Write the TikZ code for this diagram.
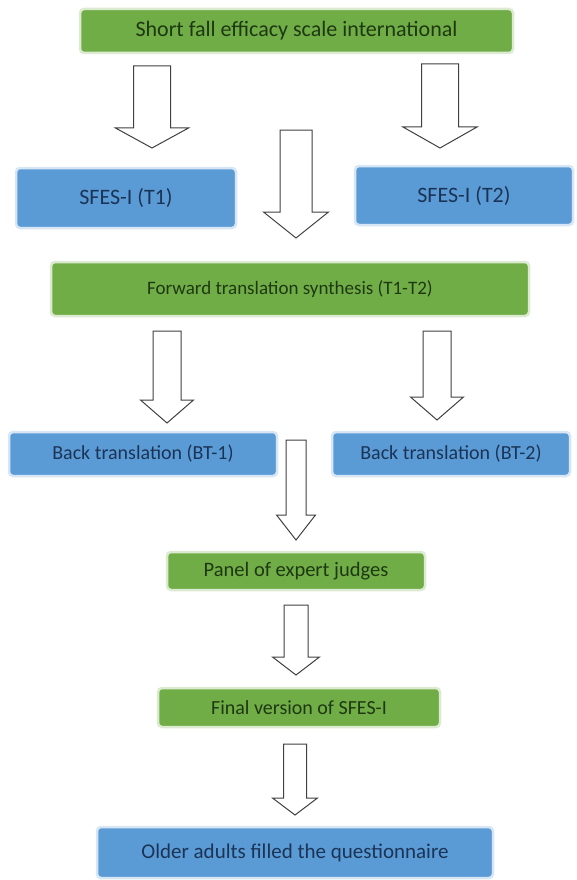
\documentclass[tikz,border=0pt]{standalone}
\usepackage{fontspec}
\setmainfont{Carlito}
\usetikzlibrary{calc}

\definecolor{boxgreen}{HTML}{70AD47}
\definecolor{boxblue}{HTML}{5B9BD5}
\definecolor{greentext}{HTML}{1E3812}
\definecolor{bluetext}{HTML}{1B3456}

% hollow block arrow: tail, tip, half shaft, half head, head length
\newcommand{\blockarrow}[5]{%
  \draw[hollow] let \p1=(#1), \p2=(#2) in
    (\x1-#3,\y1) -- (\x1-#3,\y2+#5) -- (\x1-#4,\y2+#5) -- (\x1,\y2)
    -- (\x1+#4,\y2+#5) -- (\x1+#3,\y2+#5) -- (\x1+#3,\y1) -- cycle;}

\begin{document}
\begin{tikzpicture}[x=1pt,y=-1pt,
    stepgreen/.style={rectangle, rounded corners=4pt, fill=boxgreen, draw=boxgreen!25,
      line width=2.5pt, text=greentext, inner sep=0pt},
    stepblue/.style={rectangle, rounded corners=4pt, fill=boxblue, draw=boxblue!25,
      line width=2.5pt, text=bluetext, inner sep=0pt},
    hollow/.style={draw=black!75, line width=1pt, fill=white, line join=miter}]
    \useasboundingbox (0,0) rectangle (576,880);

    \node[stepgreen, minimum width=433pt, minimum height=44pt, font=\fontsize{22}{26}\selectfont] (sfes) at (296.5,31) {Short fall efficacy scale international};
    \node[stepblue, minimum width=220pt, minimum height=60pt, font=\fontsize{22}{26}\selectfont] (t1) at (126,198) {SFES-I (T1)};
    \node[stepblue, minimum width=218pt, minimum height=59pt, font=\fontsize{22}{26}\selectfont] (t2) at (464,195.5) {SFES-I (T2)};
    \node[stepgreen, minimum width=478pt, minimum height=54pt, font=\fontsize{19}{23}\selectfont] (fwd) at (290,289) {Forward translation synthesis (T1-T2)};
    \node[stepblue, minimum width=268pt, minimum height=44pt, font=\fontsize{20}{24}\selectfont] (bt1) at (143,454) {Back translation (BT-1)};
    \node[stepblue, minimum width=238pt, minimum height=44pt, font=\fontsize{20}{24}\selectfont] (bt2) at (451,454) {Back translation (BT-2)};
    \node[stepgreen, minimum width=258pt, minimum height=38pt, font=\fontsize{20.5}{24}\selectfont] (panel) at (296,571) {Panel of expert judges};
    \node[stepgreen, minimum width=282pt, minimum height=39pt, font=\fontsize{20}{24}\selectfont] (final) at (299,707.5) {Final version of SFES-I};
    \node[stepblue, minimum width=396pt, minimum height=51pt, font=\fontsize{21}{25}\selectfont] (older) at (295,852.5) {Older adults filled the questionnaire};

    % arrow ends
    \coordinate (a1s) at (152,66);   \coordinate (a1e) at (152,148);
    \coordinate (a2s) at (440,64);   \coordinate (a2e) at (440,148);
    \coordinate (a3s) at (296,130);  \coordinate (a3e) at (296,238);
    \coordinate (a4s) at (167,331);  \coordinate (a4e) at (167,423);
    \coordinate (a5s) at (437,331);  \coordinate (a5e) at (437,420);
    \coordinate (a6s) at (296,440);  \coordinate (a6e) at (296,540);
    \coordinate (a7s) at (296,605);  \coordinate (a7e) at (296,675);
    \coordinate (a8s) at (295,744);  \coordinate (a8e) at (295,815);

    \blockarrow{a1s}{a1e}{18.5pt}{36.5pt}{20pt}
    \blockarrow{a2s}{a2e}{18.5pt}{37pt}{21pt}
    \blockarrow{a3s}{a3e}{16pt}{32.5pt}{26pt}
    \blockarrow{a4s}{a4e}{14pt}{26.5pt}{23pt}
    \blockarrow{a5s}{a5e}{14pt}{26.5pt}{23pt}
    \blockarrow{a6s}{a6e}{10pt}{19.5pt}{25pt}
    \blockarrow{a7s}{a7e}{12pt}{23.5pt}{18pt}
    \blockarrow{a8s}{a8e}{11.5pt}{22.5pt}{17pt}
\end{tikzpicture}
\end{document}
